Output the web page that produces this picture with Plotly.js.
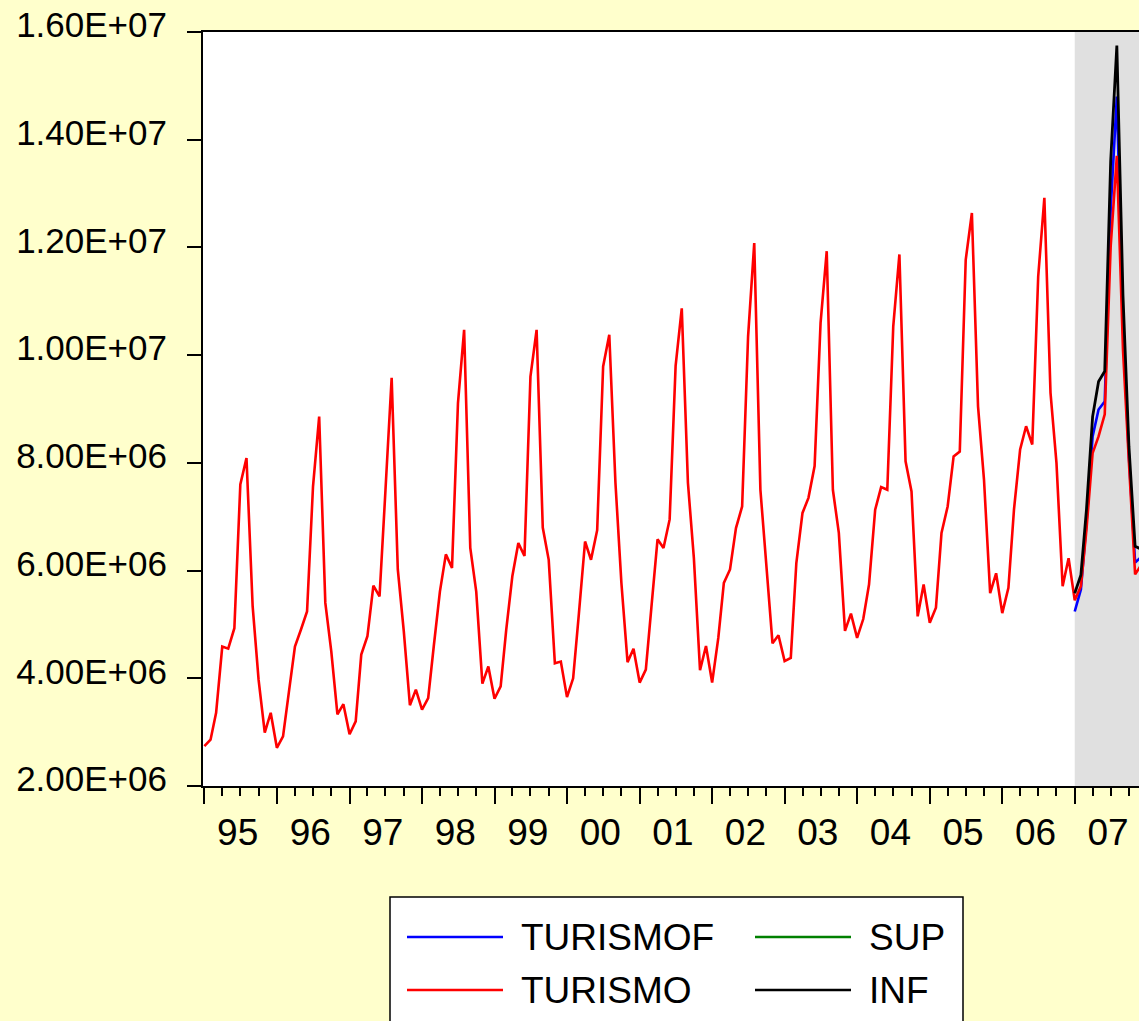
<!DOCTYPE html>
<html><head><meta charset="utf-8">
<script src="https://cdn.plot.ly/plotly-3.0.1.min.js"></script>
<style>
html,body{margin:0;padding:0;background:#FFFFCC;overflow:hidden;width:1139px;height:1021px}
#chart{width:1160px;height:1021px}
</style>
</head><body><div id="chart"></div>
<script>
// ---------- data ----------
const startYear = 1995;
const endYear = 2007;
// TURISMO, monthly 1995M01 - 2007M12
const turismo = [
  2.74e6, 2.86e6, 3.36e6, 4.59e6, 4.55e6, 4.93e6, 7.60e6, 8.09e6, 5.34e6, 3.97e6, 2.99e6, 3.36e6, // 1995
  2.71e6, 2.92e6, 3.73e6, 4.59e6, 4.90e6, 5.24e6, 7.56e6, 8.86e6, 5.40e6, 4.50e6, 3.33e6, 3.52e6, // 1996
  2.96e6, 3.20e6, 4.44e6, 4.78e6, 5.72e6, 5.52e6, 7.50e6, 9.58e6, 6.02e6, 4.88e6, 3.50e6, 3.79e6, // 1997
  3.42e6, 3.63e6, 4.59e6, 5.61e6, 6.30e6, 6.05e6, 9.11e6, 10.47e6, 6.42e6, 5.61e6, 3.90e6, 4.22e6, // 1998
  3.62e6, 3.85e6, 4.90e6, 5.90e6, 6.51e6, 6.27e6, 9.60e6, 10.47e6, 6.80e6, 6.20e6, 4.28e6, 4.31e6, // 1999
  3.65e6, 4.00e6, 5.20e6, 6.54e6, 6.20e6, 6.75e6, 9.79e6, 10.38e6, 7.63e6, 5.77e6, 4.30e6, 4.55e6, // 2000
  3.92e6, 4.16e6, 5.31e6, 6.58e6, 6.42e6, 6.95e6, 9.80e6, 10.87e6, 7.63e6, 6.23e6, 4.15e6, 4.60e6, // 2001
  3.92e6, 4.75e6, 5.77e6, 6.02e6, 6.79e6, 7.19e6, 10.35e6, 12.08e6, 7.50e6, 6.02e6, 4.65e6, 4.80e6, // 2002
  4.32e6, 4.38e6, 6.14e6, 7.07e6, 7.35e6, 7.94e6, 10.60e6, 11.93e6, 7.50e6, 6.70e6, 4.88e6, 5.20e6, // 2003
  4.75e6, 5.10e6, 5.74e6, 7.13e6, 7.55e6, 7.50e6, 10.53e6, 11.87e6, 8.03e6, 7.47e6, 5.15e6, 5.74e6, // 2004
  5.03e6, 5.31e6, 6.70e6, 7.19e6, 8.12e6, 8.21e6, 11.77e6, 12.64e6, 9.05e6, 7.69e6, 5.58e6, 5.95e6, // 2005
  5.21e6, 5.68e6, 7.13e6, 8.25e6, 8.68e6, 8.34e6, 11.46e6, 12.92e6, 9.30e6, 8.00e6, 5.71e6, 6.23e6, // 2006
  5.45e6, 5.71e6, 6.76e6, 8.18e6, 8.49e6, 8.90e6, 12.02e6, 13.70e6, 10.10e6, 8.00e6, 5.93e6, 6.10e6  // 2007
];
// Forecast sample 2007M01 - 2007M12
const forecastYear = 2007;
const turismof = [5.24e6, 5.65e6, 6.88e6, 8.49e6, 8.99e6, 9.14e6, 12.70e6, 14.80e6, 10.50e6, 8.10e6, 6.15e6, 6.25e6];
const sup      = [null, null, null, null, null, null, null, null, null, null, null, null];
const inf      = [5.58e6, 5.92e6, 7.13e6, 8.86e6, 9.51e6, 9.70e6, 13.60e6, 15.75e6, 11.10e6, 8.30e6, 6.45e6, 6.40e6];
// Axis ticks
const yTickVals = [2e6, 4e6, 6e6, 8e6, 10e6, 12e6, 14e6, 16e6];
const yTickText = ['2.00E+06', '4.00E+06', '6.00E+06', '8.00E+06', '1.00E+07', '1.20E+07', '1.40E+07', '1.60E+07'];
const seriesNames = ['TURISMOF', 'TURISMO', 'SUP', 'INF'];
const seriesColors = ['#0000FF', '#FF0000', '#008000', '#000000'];

// ---------- helpers ----------
function monthDates(y0, n) {
  const out = [];
  for (let i = 0; i < n; i++) {
    const y = y0 + Math.floor(i / 12), m = (i % 12) + 1;
    out.push(y + '-' + (m < 10 ? '0' + m : m) + '-01');
  }
  return out;
}
const xAll = monthDates(startYear, turismo.length);
const xFc = monthDates(forecastYear, turismof.length);

const FONT = 'Liberation Sans, Arial, Helvetica, sans-serif';
const P = {l: 203, t: 32, w: 947, h: 754};
const fx = px => (px - P.l) / P.w;
const fy = py => (P.t + P.h - py) / P.h;

const traces = [
  {x: xFc, y: turismof, name: seriesNames[0], type: 'scatter', mode: 'lines',
   line: {color: seriesColors[0], width: 2.6}, showlegend: false},
  {x: xAll, y: turismo, name: seriesNames[1], type: 'scatter', mode: 'lines',
   line: {color: seriesColors[1], width: 2.6}, showlegend: false},
  {x: xFc, y: sup, name: seriesNames[2], type: 'scatter', mode: 'lines',
   line: {color: seriesColors[2], width: 2.6}, showlegend: false},
  {x: xFc, y: inf, name: seriesNames[3], type: 'scatter', mode: 'lines',
   line: {color: seriesColors[3], width: 2.8}, showlegend: false}
];

// custom EViews-style legend (long line samples)
const legendRows = [[0, 2], [1, 3]];
const rowY = [937, 990];
const colX = [407, 755];
const shapes = [
  {type: 'rect', xref: 'x', yref: 'paper', x0: forecastYear + '-01-01', x1: '2008-03-01', y0: 0, y1: 1,
   fillcolor: '#E0E0E0', line: {width: 0}, layer: 'below'},
  {type: 'rect', xref: 'paper', yref: 'paper', x0: fx(390), x1: fx(963), y0: fy(897), y1: fy(1040),
   fillcolor: '#FFFFFF', line: {color: '#000000', width: 1.5}, layer: 'above'}
];
const annotations = [];
legendRows.forEach((row, r) => {
  row.forEach((si, c) => {
    shapes.push({type: 'line', xref: 'paper', yref: 'paper',
      x0: fx(colX[c]), x1: fx(colX[c] + 96), y0: fy(rowY[r]), y1: fy(rowY[r]),
      line: {color: seriesColors[si], width: 2.5}});
    annotations.push({xref: 'paper', yref: 'paper', x: fx(colX[c] + 112), y: fy(rowY[r]),
      xanchor: 'left', yanchor: 'middle', showarrow: false, text: seriesNames[si],
      font: {family: FONT, size: 37, color: '#000000'}});
  });
});

const layout = {
  width: 1160, height: 1021,
  paper_bgcolor: '#FFFFCC', plot_bgcolor: '#FFFFFF',
  margin: {l: P.l, t: P.t, r: 1160 - P.l - P.w, b: 1021 - P.t - P.h, pad: 0},
  showlegend: false,
  font: {family: FONT, size: 37, color: '#000000'},
  xaxis: {
    type: 'date', range: ['1994-12-25', '2008-01-15'],
    tick0: startYear + '-01-01', dtick: 'M12', tickformat: '%y', ticklabelmode: 'period',
    ticks: 'outside', ticklen: 16, tickwidth: 2, tickcolor: '#000000',
    minor: {ticks: 'outside', dtick: 'M3', tick0: startYear + '-01-01', ticklen: 8, tickwidth: 2, tickcolor: '#000000', showgrid: false},
    showline: true, linewidth: 2, linecolor: '#000000', mirror: true,
    showgrid: false, zeroline: false, ticklabelshift: -3, ticklabelstandoff: -3,
    tickfont: {family: FONT, size: 37, color: '#000000'}
  },
  yaxis: {
    range: [2e6, 1.6e7], tickmode: 'array', tickvals: yTickVals, ticktext: yTickText,
    ticks: 'outside', ticklen: 14, tickwidth: 2, tickcolor: '#000000',
    showline: true, linewidth: 2, linecolor: '#000000', mirror: true,
    showgrid: false, zeroline: false, ticklabelstandoff: 13, ticklabelshift: -7,
    tickfont: {family: FONT, size: 35, color: '#000000'}
  },
  shapes: shapes,
  annotations: annotations
};

Plotly.newPlot('chart', traces, layout, {displayModeBar: false, staticPlot: true});
</script>
</body></html>
